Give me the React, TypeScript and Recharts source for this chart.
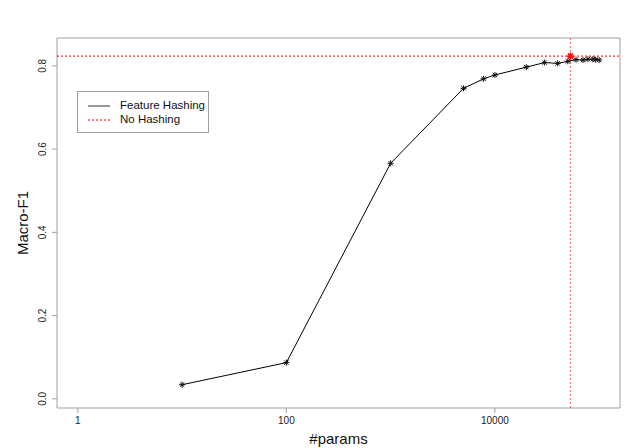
import React from 'react';
import {
  ComposedChart, Line, Scatter, XAxis, YAxis, ReferenceLine, ReferenceArea, Label,
} from 'recharts';

// feature hashing runs: number of hashed params vs macro-F1
const hashParams = [10, 100, 1000, 5000, 7800, 10000, 20000, 30000, 40000, 50000, 60000, 70000, 78000, 87000, 92000, 100000];
const hashF1 = [0.034, 0.087, 0.566, 0.746, 0.769, 0.778, 0.797, 0.808, 0.806, 0.811, 0.815, 0.814, 0.816, 0.816, 0.815, 0.814];

// baseline without hashing
const noHashParams = [53000];
const noHashF1 = [0.8235];

const xTicks = [1, 100, 10000];
const yTicks = [0, 0.2, 0.4, 0.6, 0.8];
const xDomain: [number, number] = [Math.pow(10, -0.2), Math.pow(10, 5.2)];
const yDomain: [number, number] = [-0.022, 0.867];

const FONT = '"Liberation Sans", Arial, Helvetica, sans-serif';
const AXIS_GREY = '#a0a0a0';

const hashData = hashParams.map((p, i) => ({ params: p, f1: hashF1[i] }));
const noHashData = noHashParams.map((p, i) => ({ params: p, f1: noHashF1[i] }));

// R's pch = 8 asterisk
const Asterisk = (props: any) => {
  const { cx, cy, color = '#111', r = 3, sw = 1 } = props;
  if (cx == null || cy == null) return null;
  const d = r * 0.72;
  return (
    <g stroke={color} strokeWidth={sw}>
      <line x1={cx - r} y1={cy} x2={cx + r} y2={cy} />
      <line x1={cx} y1={cy - r} x2={cx} y2={cy + r} />
      <line x1={cx - d} y1={cy - d} x2={cx + d} y2={cy + d} />
      <line x1={cx - d} y1={cy + d} x2={cx + d} y2={cy - d} />
    </g>
  );
};

const YTick = (props: any) => {
  const { x, y, payload } = props;
  return (
    <text
      x={x - 4}
      y={y}
      transform={`rotate(-90, ${x - 4}, ${y})`}
      textAnchor="middle"
      fontSize={10}
      fontFamily={FONT}
      fill="#222"
    >
      {Number(payload.value).toFixed(1)}
    </text>
  );
};

const LegendBox = () => (
  <div
    style={{
      position: 'absolute',
      left: 77,
      top: 91,
      width: 132,
      height: 42,
      border: `1px solid ${AXIS_GREY}`,
      boxSizing: 'border-box',
      background: '#fff',
      fontFamily: FONT,
      fontSize: 11.5,
      color: '#111',
    }}
  >
    <svg width={40} height={40} style={{ position: 'absolute', left: 0, top: 0 }}>
      <line x1={10} y1={14} x2={32} y2={14} stroke="#333" strokeWidth={1} />
      <line x1={10} y1={28} x2={32} y2={28} stroke="red" strokeWidth={1} strokeDasharray="2 2" />
    </svg>
    <div style={{ position: 'absolute', left: 42, top: 6, lineHeight: '14px' }}>Feature Hashing</div>
    <div style={{ position: 'absolute', left: 42, top: 20, lineHeight: '14px' }}>No Hashing</div>
  </div>
);

export default function App() {
  return (
    <div style={{ position: 'absolute', left: 0, top: 0, width: 640, height: 448, background: '#fff' }}>
      <ComposedChart width={640} height={448} margin={{ top: 38, right: 20, bottom: 0, left: 0 }}>
        <XAxis
          dataKey="params"
          type="number"
          scale="log"
          domain={xDomain}
          allowDataOverflow
          ticks={xTicks}
          height={40}
          axisLine={false}
          tickSize={5}
          tickMargin={4}
          tickLine={{ stroke: AXIS_GREY }}
          tick={{ fontSize: 10, fontFamily: FONT, fill: '#222' }}
        >
          <Label
            content={(p: any) => {
              const vb = p.viewBox || {};
              return (
                <text
                  x={vb.x + vb.width / 2}
                  y={vb.y + vb.height - 4}
                  textAnchor="middle"
                  fontSize={15}
                  fontFamily={FONT}
                  fill="#111"
                >
                  #params
                </text>
              );
            }}
          />
        </XAxis>
        <YAxis
          type="number"
          domain={yDomain}
          allowDataOverflow
          ticks={yTicks}
          width={57}
          axisLine={false}
          tickSize={5}
          tickMargin={2}
          tickLine={{ stroke: AXIS_GREY }}
          tick={<YTick />}
        >
          <Label
            content={(p: any) => {
              const vb = p.viewBox || {};
              const cy = vb.y + vb.height / 2;
              return (
                <text
                  x={28}
                  y={cy}
                  transform={`rotate(-90, 28, ${cy})`}
                  textAnchor="middle"
                  fontSize={15}
                  fontFamily={FONT}
                  fill="#111"
                >
                  Macro-F1
                </text>
              );
            }}
          />
        </YAxis>
        <ReferenceArea
          x1={xDomain[0]}
          x2={xDomain[1]}
          y1={yDomain[0]}
          y2={yDomain[1]}
          fill="#fff"
          fillOpacity={0}
          stroke={AXIS_GREY}
          strokeWidth={1}
        />
        <ReferenceLine y={noHashF1[0]} stroke="red" strokeDasharray="2 2" strokeWidth={1} />
        <ReferenceLine x={noHashParams[0]} stroke="red" strokeDasharray="2 2" strokeWidth={1} strokeOpacity={0.6} />
        <Line
          data={hashData}
          dataKey="f1"
          stroke="#000"
          strokeWidth={1}
          dot={(p: any) => <Asterisk key={p.index} cx={p.cx} cy={p.cy} />}
          activeDot={false}
          isAnimationActive={false}
        />
        <Scatter
          data={noHashData}
          dataKey="f1"
          shape={(p: any) => <Asterisk cx={p.cx} cy={p.cy} color="red" r={3.5} sw={1.5} />}
          isAnimationActive={false}
        />
      </ComposedChart>
      <LegendBox />
    </div>
  );
}
